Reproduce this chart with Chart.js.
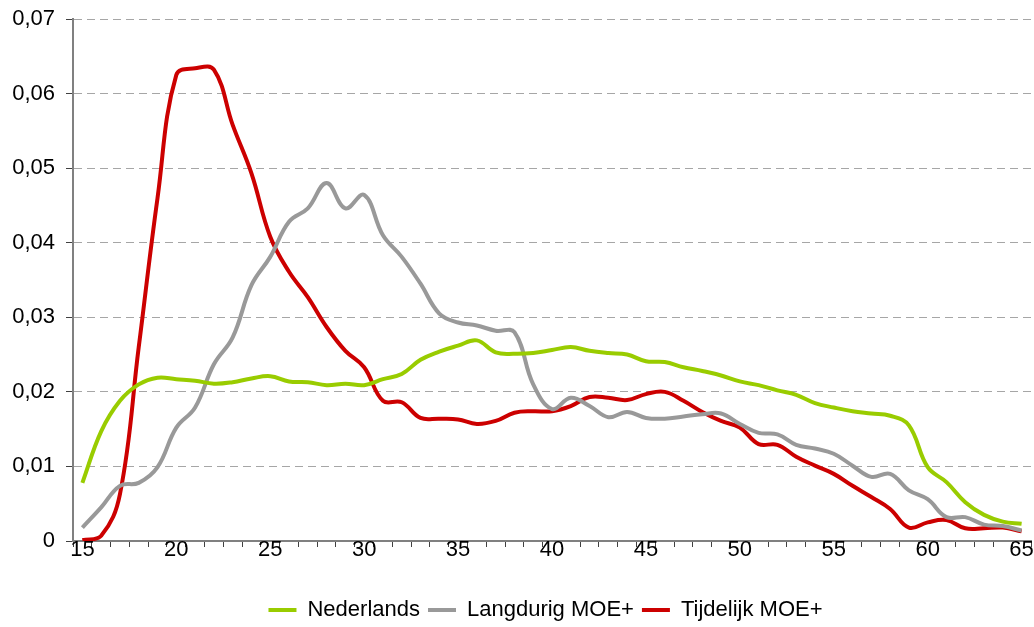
<!DOCTYPE html>
<html>
<head>
<meta charset="utf-8">
<script src="https://cdn.jsdelivr.net/npm/chart.js@4"></script>
<style>
    html, body { margin: 0; padding: 0; background: #fff; }
    #wrap { width: 1034px; height: 627px; }
</style>
</head>
<body>
<div id="wrap"><canvas id="chart" width="1034" height="627"></canvas></div>
<script>
// ages on the x axis (15..65)
const ages = [15, 16, 17, 18, 19, 20, 21, 22, 23, 24, 25, 26, 27, 28, 29, 30, 31, 32, 33, 34, 35,
    36, 37, 38, 39, 40, 41, 42, 43, 44, 45, 46, 47, 48, 49, 50, 51, 52, 53, 54, 55,
    56, 57, 58, 59, 60, 61, 62, 63, 64, 65];

const nederlands = [0.0078, 0.0147, 0.0188, 0.0210, 0.0219, 0.0217, 0.0215, 0.0211, 0.0213, 0.0218,
    0.0221, 0.0214, 0.0213, 0.0209, 0.0211, 0.0209, 0.0217, 0.0224, 0.0243, 0.0254,
    0.0262, 0.0269, 0.0253, 0.0251, 0.0252, 0.0256, 0.0260, 0.0255, 0.0252, 0.0250,
    0.0241, 0.0240, 0.0233, 0.0228, 0.0222, 0.0214, 0.0209, 0.0202, 0.0196, 0.0185,
    0.0179, 0.0174, 0.0171, 0.0168, 0.0155, 0.0099, 0.0079, 0.0052, 0.0035, 0.0026, 0.0023];

const langdurig = [0.0018, 0.0045, 0.0074, 0.0078, 0.0099, 0.0152, 0.0179, 0.0237, 0.0273, 0.0343,
    0.0381, 0.0428, 0.0446, 0.0480, 0.0446, 0.0464, 0.0410, 0.0381, 0.0345, 0.0305,
    0.0293, 0.0289, 0.0282, 0.0280, 0.0210, 0.0177, 0.0192, 0.0181, 0.0166, 0.0173,
    0.0165, 0.0164, 0.0167, 0.0170, 0.0171, 0.0157, 0.0145, 0.0143, 0.0129, 0.0124,
    0.0117, 0.0101, 0.0086, 0.0090, 0.0068, 0.0056, 0.0032, 0.0032, 0.0022, 0.0020, 0.0014];

const tijdelijk = [0.0001, 0.0007, 0.0063, 0.0260, 0.0460, 0.0625, 0.0634, 0.0632, 0.0558, 0.0493,
    0.0408, 0.0361, 0.0327, 0.0287, 0.0255, 0.0233, 0.0188, 0.0186, 0.0165, 0.0164,
    0.0163, 0.0157, 0.0161, 0.0172, 0.0174, 0.0174, 0.0181, 0.0193, 0.0192, 0.0189,
    0.0197, 0.0200, 0.0188, 0.0173, 0.0161, 0.0152, 0.0130, 0.0129, 0.0113, 0.0101,
    0.0090, 0.0074, 0.0059, 0.0043, 0.0018, 0.0025, 0.0028, 0.0017, 0.0017, 0.0018, 0.0013];

const yTicks = [0, 0.01, 0.02, 0.03, 0.04, 0.05, 0.06, 0.07];

const FONT = { family: '"Liberation Sans", Arial, sans-serif', size: 22 };

function series(label, data, color) {
    return {
        label: label,
        data: data,
        borderColor: color,
        backgroundColor: color,
        borderWidth: 4,
        pointRadius: 0,
        tension: 0.4,
        fill: false
    };
}

// the legend sits a bit right of centre and lower in the original
const legendShift = {
    id: 'legendShift',
    afterLayout: function (chart) {
        chart.legend.left += 30;
        chart.legend.right += 30;
        chart.legend.top += 4;
        chart.legend.bottom += 4;
    }
};

const ctx = document.getElementById('chart').getContext('2d');
new Chart(ctx, {
    type: 'line',
    data: {
        labels: ages,
        datasets: [
            series('Nederlands', nederlands, '#99cc00'),
            series('Langdurig MOE+', langdurig, '#999999'),
            series('Tijdelijk MOE+', tijdelijk, '#cc0000')
        ]
    },
    plugins: [legendShift],
    options: {
        responsive: false,
        animation: false,
        layout: { padding: { top: 0, right: 3, left: 0, bottom: 0 } },
        plugins: {
            tooltip: { enabled: false },
            legend: {
                position: 'bottom',
                labels: {
                    color: '#000',
                    font: FONT,
                    boxWidth: 28,
                    boxHeight: 4,
                    padding: 8,
                    generateLabels: function (chart) {
                        return chart.data.datasets.map(function (ds, i) {
                            return {
                                text: ds.label,
                                fillStyle: ds.borderColor,
                                strokeStyle: ds.borderColor,
                                lineWidth: 0,
                                fontColor: '#000',
                                datasetIndex: i
                            };
                        });
                    }
                }
            }
        },
        scales: {
            x: {
                offset: true,
                grid: {
                    offset: true,
                    drawOnChartArea: false,
                    tickLength: 6,
                    tickColor: '#404040'
                },
                border: { color: '#808080', width: 2 },
                ticks: {
                    autoSkip: false,
                    maxRotation: 0,
                    color: '#000',
                    font: FONT,
                    padding: -10,
                    callback: function (value, index) {
                        const age = ages[index];
                        return age % 5 === 0 ? String(age) : '';
                    }
                },
                afterFit: function (scale) { scale.height = 46; }
            },
            y: {
                min: 0,
                max: 0.07,
                afterBuildTicks: function (scale) {
                    scale.ticks = yTicks.map(function (v) { return { value: v }; });
                },
                grid: {
                    color: '#a6a6a6',
                    lineWidth: 1,
                    tickLength: 7,
                    tickColor: '#404040'
                },
                border: { color: '#808080', width: 2, dash: [8, 5] },
                ticks: {
                    color: '#000',
                    font: FONT,
                    padding: 11,
                    callback: function (value) {
                        return value === 0 ? '0' : value.toFixed(2).replace('.', ',');
                    }
                },
                afterFit: function (scale) {
                    scale.width = 73;
                    scale.paddingTop = 19;
                }
            }
        }
    }
});
</script>
</body>
</html>
